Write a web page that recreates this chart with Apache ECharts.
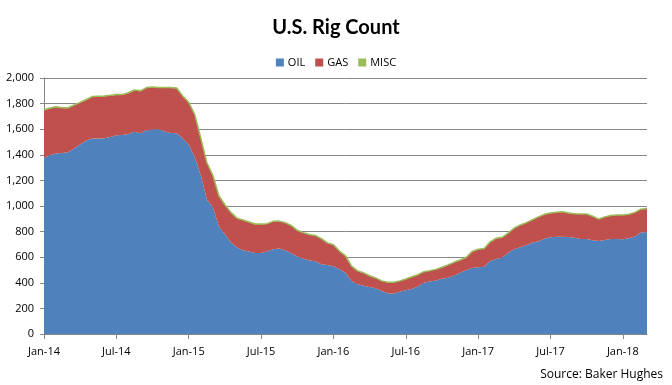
<!DOCTYPE html>
<html>
<head>
<meta charset="utf-8">
<script src="https://cdn.jsdelivr.net/npm/echarts@6/dist/echarts.min.js"></script>
<style>
html,body{margin:0;padding:0;background:#fff;}
#chart{width:672px;height:385px;}
</style>
</head>
<body>
<div id="chart"></div>
<script>
// Semi-monthly sample points (1st and 15th of each month), Jan 2014 - Mar 2018
var startYear = 2014, startMonth = 0, pointCount = 101;
var tickLabels = ['Jan-14','Jul-14','Jan-15','Jul-15','Jan-16','Jul-16','Jan-17','Jul-17','Jan-18'];

var oil = [
1375,1398,1411,1414,1420,1450,1480,1512,1528,1528,
1530,1540,1552,1555,1562,1580,1568,1592,1598,1602,
1582,1570,1568,1530,1480,1380,1240,1050,990,840,
780,715,675,655,645,632,632,645,662,668,
655,630,605,588,575,568,545,540,530,505,
478,415,388,377,367,358,335,318,315,330,
342,352,372,400,410,418,432,440,455,478,
498,515,521,525,570,585,597,635,662,678,
693,712,725,745,755,760,760,758,752,742,
742,733,727,735,742,742,740,748,762,793,
797];

var gas = [
374,364,361,351,344,336,327,317,323,326,
327,322,316,313,319,322,329,330,329,321,
340,351,351,327,327,332,287,288,248,238,
228,233,228,233,228,226,226,215,216,212,
213,216,203,202,201,200,198,170,166,142,
131,114,104,100,87,79,79,86,89,84,
87,94,90,86,84,86,89,99,104,99,
99,129,140,142,149,162,157,154,165,173,
176,180,189,189,189,191,194,186,187,195,
195,186,170,179,182,187,189,186,187,181,
182];

var misc = [
3,3,4,3,4,4,3,3,4,4,
3,3,4,4,4,4,3,3,3,3,
4,4,3,3,3,3,3,2,2,2,
2,2,2,2,2,2,2,2,2,2,
2,2,2,2,2,2,2,2,2,1,
1,1,1,1,1,1,1,1,1,1,
1,1,1,1,1,1,1,1,1,1,
1,1,1,1,1,1,1,1,1,1,
1,1,1,1,1,1,1,1,1,1,
1,1,1,1,1,1,1,1,1,1,
1];

var categories = [];
for (var i = 0; i < pointCount; i++) {
  var m = startMonth + Math.floor(i / 2);
  var y = startYear + Math.floor(m / 12);
  var mm = (m % 12) + 1;
  categories.push(y + '-' + (mm < 10 ? '0' : '') + mm + '-' + (i % 2 === 0 ? '01' : '15'));
}

var chart = echarts.init(document.getElementById('chart'), null, {renderer: 'canvas'});
var font = 'Open Sans, Liberation Sans, sans-serif';
chart.setOption({
  animation: false,
  backgroundColor: '#ffffff',
  title: {
    text: 'U.S. Rig Count',
    left: 'center',
    top: 13,
    textStyle: {fontFamily: 'Lato, Open Sans, sans-serif', fontWeight: 'bold', fontSize: 20, color: '#000'}
  },
  legend: {
    top: 52,
    left: 'center',
    icon: 'rect',
    itemWidth: 8,
    itemHeight: 8,
    itemGap: 10,
    textStyle: {fontFamily: font, fontSize: 11, color: '#000', padding: [0, 0, 0, -1]},
    data: ['OIL', 'GAS', 'MISC']
  },
  graphic: [{
    type: 'text',
    right: 9,
    bottom: 4,
    style: {text: 'Source: Baker Hughes', font: '12px ' + font, fill: '#000'}
  }],
  grid: {left: 44, right: 25, top: 78, bottom: 51, containLabel: false},
  xAxis: {
    type: 'category',
    boundaryGap: false,
    data: categories,
    axisLine: {show: true, lineStyle: {color: '#868686', width: 1}},
    axisTick: {show: true, length: 5, lineStyle: {color: '#868686'}, interval: function (idx) { return idx % 12 === 0; }},
    axisLabel: {
      interval: function (idx) { return idx % 12 === 0; },
      formatter: function (val, idx) { return idx % 12 === 0 ? tickLabels[idx / 12] : ''; },
      fontFamily: font, fontSize: 11, color: '#000', margin: 12
    },
    splitLine: {show: false}
  },
  yAxis: {
    type: 'value',
    min: 0,
    max: 2000,
    interval: 200,
    axisLine: {show: true, lineStyle: {color: '#868686', width: 1}},
    axisTick: {show: true, length: 4, lineStyle: {color: '#868686'}},
    axisLabel: {
      fontFamily: font, fontSize: 11, color: '#000', margin: 10,
      formatter: function (v) { return v.toLocaleString('en-US'); }
    },
    splitLine: {show: true, lineStyle: {color: '#868686', width: 1}}
  },
  series: [
    {name: 'OIL', type: 'line', stack: 'rigs', data: oil, symbol: 'none', showSymbol: false,
     itemStyle: {color: '#4F81BD'}, lineStyle: {width: 0, color: '#4F81BD'}, areaStyle: {color: '#4F81BD', opacity: 1}},
    {name: 'GAS', type: 'line', stack: 'rigs', data: gas, symbol: 'none', showSymbol: false,
     itemStyle: {color: '#C0504D'}, lineStyle: {width: 0, color: '#C0504D'}, areaStyle: {color: '#C0504D', opacity: 1}},
    {name: 'MISC', type: 'line', stack: 'rigs', data: misc, symbol: 'none', showSymbol: false,
     itemStyle: {color: '#9BBB59'}, lineStyle: {width: 1.5, color: '#9BBB59'}, areaStyle: {color: '#9BBB59', opacity: 1}}
  ]
});
</script>
</body>
</html>
